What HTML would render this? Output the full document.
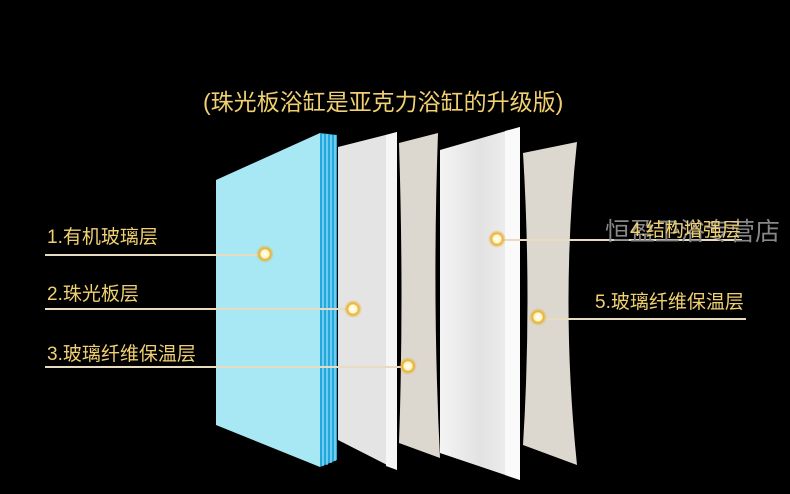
<!DOCTYPE html><html><head><meta charset="utf-8"><style>
body{margin:0;width:790px;height:494px;background:#000;overflow:hidden;position:relative;font-family:"Liberation Sans","Noto Sans CJK SC",sans-serif}
.t{position:absolute;color:#f0d070;font-size:19px;white-space:nowrap}
</style></head><body>
<svg width="790" height="494" style="position:absolute;left:0;top:0">
<defs>
<radialGradient id="dot"><stop offset="0" stop-color="#fff"/><stop offset="0.45" stop-color="#fff6c0"/><stop offset="0.6" stop-color="#e8b030"/><stop offset="1" stop-color="#e8b030" stop-opacity="0"/></radialGradient>
<linearGradient id="p4" x1="0" x2="1"><stop offset="0" stop-color="#f4f4f4"/><stop offset="0.5" stop-color="#e2e2e2"/><stop offset="1" stop-color="#f2f2f2"/></linearGradient>
</defs>
<polygon points="216,180 320,133 320,467 216,425" fill="#a8e8f4"/>
<polygon points="320,133 337,135 337,460 320,467" fill="#22a8dc"/>
<g stroke="#bdf0ff" stroke-width="1"><line x1="323" y1="134" x2="323" y2="466"/><line x1="327" y1="134" x2="327" y2="465"/><line x1="331" y1="135" x2="331" y2="463"/><line x1="335" y1="135" x2="335" y2="461"/></g>
<polygon points="338,147 397,132 397,470 338,440" fill="#e4e4e4"/>
<polygon points="386,135 397,132 397,470 386,466" fill="#f6f6f6"/>
<path d="M399,143 L438,133 Q432,300 440,458 L399,443 Q404,300 399,143Z" fill="#dcd8d0"/>
<polygon points="440,150 520,127 520,480 440,453" fill="url(#p4)"/>
<polygon points="505,131 520,127 520,480 505,475" fill="#fafafa"/>
<path d="M523,153 L577,142 Q560,300 577,465 L523,445 Q532,300 523,153Z" fill="#dcd8d0"/>
<g stroke="#e8dcc0" stroke-width="2">
<line x1="45" y1="255" x2="265" y2="255"/>
<line x1="45" y1="309" x2="353" y2="309"/>
<line x1="45" y1="367" x2="408" y2="367"/>
<line x1="497" y1="240" x2="742" y2="240"/>
<line x1="538" y1="319" x2="746" y2="319"/>
</g>
<g fill="url(#dot)"><circle cx="265" cy="254" r="9"/><circle cx="353" cy="309" r="9"/><circle cx="408" cy="366" r="9"/><circle cx="497" cy="239" r="9"/><circle cx="538" cy="317" r="9"/></g>
</svg>
<div class="t" style="left:203px;top:83px;font-size:23px">(珠光板浴缸是亚克力浴缸的升级版)</div>
<div class="t" style="left:47px;top:222px">1.有机玻璃层</div>
<div class="t" style="left:47px;top:279px">2.珠光板层</div>
<div class="t" style="left:47px;top:339px">3.玻璃纤维保温层</div>
<div class="t" style="left:605px;top:212px;color:#888;font-size:25px">恒盈卫浴专营店</div>
<div class="t" style="left:630px;top:215px">4.结构增强层</div>
<div class="t" style="left:595px;top:287px">5.玻璃纤维保温层</div>
</body></html>
